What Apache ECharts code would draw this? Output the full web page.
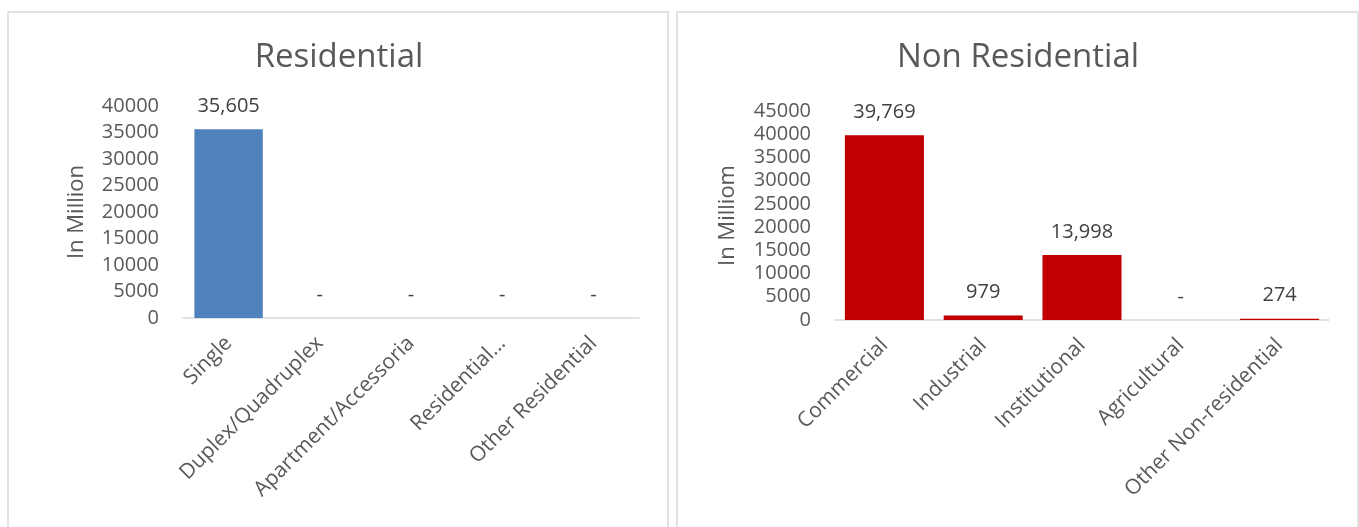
<!DOCTYPE html>
<html>
<head>
<meta charset="utf-8">
<script src="https://cdn.jsdelivr.net/npm/echarts@6/dist/echarts.min.js"></script>
<style>
html,body{margin:0;padding:0;background:#fff;}
#main{width:1359px;height:527px;}
</style>
</head>
<body>
<div id="main"></div>
<script>
const resCategories = ["Single", "Duplex/Quadruplex", "Apartment/Accessoria", "Residential...", "Other Residential"];
const resValues = [35605, 0, 0, 0, 0];
const nonResCategories = ["Commercial", "Industrial", "Institutional", "Agricultural", "Other Non-residential"];
const nonResValues = [39769, 979, 13998, 0, 274];
const resTitle = "Residential";
const nonResTitle = "Non Residential";
const resAxisName = "In Million";
const nonResAxisName = "In Milliom";

const FONT = "Open Sans";
const AX = "#595959";
const fmt = v => v === 0 ? "-" : v.toLocaleString("en-US");

const chart = echarts.init(document.getElementById("main"), null, {renderer: "canvas"});

function catAxis(idx, data) {
  return {
    type: "category", gridIndex: idx, data: data,
    axisTick: {show: false},
    axisLine: {lineStyle: {color: "#d9d9d9", width: 1.5}},
    axisLabel: {rotate: 45, interval: 0, margin: 22, color: AX, fontFamily: FONT, fontSize: 21}
  };
}
function valAxis(idx, max, name, gap) {
  return {
    type: "value", gridIndex: idx, min: 0, max: max, interval: 5000,
    name: name, nameLocation: "middle", nameRotate: 90, nameGap: gap,
    nameTextStyle: {color: AX, fontFamily: FONT, fontSize: 22},
    splitLine: {show: false}, axisLine: {show: false}, axisTick: {show: false},
    axisLabel: {margin: 24, color: AX, fontFamily: FONT, fontSize: 20, formatter: v => String(v)}
  };
}
function barLabel() {
  return {show: true, position: "top", distance: 12, color: "#404040", fontFamily: FONT, fontSize: 20,
    lineHeight: 22, formatter: p => fmt(p.value)};
}

chart.setOption({
  animation: false,
  backgroundColor: "#fff",
  graphic: [
    {type: "rect", shape: {x: 8, y: 12, width: 660, height: 530}, style: {fill: "none", stroke: "#d9d9d9", lineWidth: 1.5}, silent: true},
    {type: "rect", shape: {x: 677, y: 12, width: 681, height: 530}, style: {fill: "none", stroke: "#d9d9d9", lineWidth: 1.5}, silent: true}
  ],
  title: [
    {text: resTitle, left: 334, top: 36, textAlign: "center",
      textStyle: {color: AX, fontFamily: FONT, fontSize: 33, fontWeight: "normal"}},
    {text: nonResTitle, left: 1013, top: 36, textAlign: "center",
      textStyle: {color: AX, fontFamily: FONT, fontSize: 33, fontWeight: "normal"}}
  ],
  grid: [
    {left: 183, top: 106, width: 456, height: 212},
    {left: 835, top: 111, width: 494, height: 209}
  ],
  xAxis: [catAxis(0, resCategories), catAxis(1, nonResCategories)],
  yAxis: [valAxis(0, 40000, resAxisName, 95), valAxis(1, 45000, nonResAxisName, 96)],
  series: [
    {type: "bar", xAxisIndex: 0, yAxisIndex: 0, data: resValues, barCategoryGap: "25%",
      itemStyle: {color: "#4f81bd"}, label: barLabel()},
    {type: "bar", xAxisIndex: 1, yAxisIndex: 1, data: nonResValues, barCategoryGap: "20%",
      itemStyle: {color: "#c00000"}, label: barLabel()}
  ]
});
</script>
</body>
</html>
